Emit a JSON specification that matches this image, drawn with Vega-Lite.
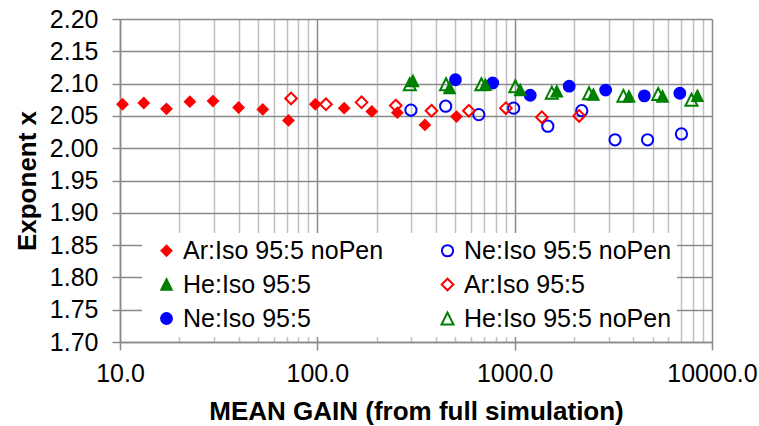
{
  "$schema": "https://vega.github.io/schema/vega-lite/v6.json",
  "width": 592,
  "height": 323,
  "autosize": {"type": "none"},
  "padding": {"left": 120, "top": 19, "right": 47, "bottom": 84},
  "config": {"font": "Liberation Sans", "view": {"stroke": null}},
  "data": {"values": [
    {"series": "Ar:Iso 95:5 noPen", "gain": 10.3, "x": 2.068},
    {"series": "Ar:Iso 95:5 noPen", "gain": 13.2, "x": 2.070},
    {"series": "Ar:Iso 95:5 noPen", "gain": 17.2, "x": 2.061},
    {"series": "Ar:Iso 95:5 noPen", "gain": 22.6, "x": 2.072},
    {"series": "Ar:Iso 95:5 noPen", "gain": 29.6, "x": 2.073},
    {"series": "Ar:Iso 95:5 noPen", "gain": 39.9, "x": 2.063},
    {"series": "Ar:Iso 95:5 noPen", "gain": 52.9, "x": 2.060},
    {"series": "Ar:Iso 95:5 noPen", "gain": 71.4, "x": 2.043},
    {"series": "Ar:Iso 95:5 noPen", "gain": 97.7, "x": 2.068},
    {"series": "Ar:Iso 95:5 noPen", "gain": 136.8, "x": 2.062},
    {"series": "Ar:Iso 95:5 noPen", "gain": 188.8, "x": 2.057},
    {"series": "Ar:Iso 95:5 noPen", "gain": 254.4, "x": 2.055},
    {"series": "Ar:Iso 95:5 noPen", "gain": 351, "x": 2.036},
    {"series": "Ar:Iso 95:5 noPen", "gain": 507, "x": 2.049},
    {"series": "Ne:Iso 95:5 noPen", "gain": 298, "x": 2.059},
    {"series": "Ne:Iso 95:5 noPen", "gain": 447, "x": 2.065},
    {"series": "Ne:Iso 95:5 noPen", "gain": 658, "x": 2.052},
    {"series": "Ne:Iso 95:5 noPen", "gain": 988, "x": 2.062},
    {"series": "Ne:Iso 95:5 noPen", "gain": 1472, "x": 2.034},
    {"series": "Ne:Iso 95:5 noPen", "gain": 2188, "x": 2.058},
    {"series": "Ne:Iso 95:5 noPen", "gain": 3226, "x": 2.013},
    {"series": "Ne:Iso 95:5 noPen", "gain": 4715, "x": 2.013},
    {"series": "Ne:Iso 95:5 noPen", "gain": 7000, "x": 2.022},
    {"series": "Ar:Iso 95:5", "gain": 73.6, "x": 2.077},
    {"series": "Ar:Iso 95:5", "gain": 110.6, "x": 2.068},
    {"series": "Ar:Iso 95:5", "gain": 167.5, "x": 2.071},
    {"series": "Ar:Iso 95:5", "gain": 249.8, "x": 2.066},
    {"series": "Ar:Iso 95:5", "gain": 379, "x": 2.058},
    {"series": "Ar:Iso 95:5", "gain": 586, "x": 2.058},
    {"series": "Ar:Iso 95:5", "gain": 903, "x": 2.062},
    {"series": "Ar:Iso 95:5", "gain": 1374, "x": 2.048},
    {"series": "Ar:Iso 95:5", "gain": 2122, "x": 2.050},
    {"series": "He:Iso 95:5 noPen", "gain": 294, "x": 2.099},
    {"series": "He:Iso 95:5 noPen", "gain": 449, "x": 2.099},
    {"series": "He:Iso 95:5 noPen", "gain": 678, "x": 2.099},
    {"series": "He:Iso 95:5 noPen", "gain": 1008, "x": 2.096},
    {"series": "He:Iso 95:5 noPen", "gain": 1542, "x": 2.086},
    {"series": "He:Iso 95:5 noPen", "gain": 2383, "x": 2.085},
    {"series": "He:Iso 95:5 noPen", "gain": 3556, "x": 2.081},
    {"series": "He:Iso 95:5 noPen", "gain": 5337, "x": 2.084},
    {"series": "He:Iso 95:5 noPen", "gain": 7870, "x": 2.075},
    {"series": "Ne:Iso 95:5", "gain": 501, "x": 2.106},
    {"series": "Ne:Iso 95:5", "gain": 774, "x": 2.101},
    {"series": "Ne:Iso 95:5", "gain": 1199, "x": 2.082},
    {"series": "Ne:Iso 95:5", "gain": 1889, "x": 2.096},
    {"series": "Ne:Iso 95:5", "gain": 2891, "x": 2.090},
    {"series": "Ne:Iso 95:5", "gain": 4541, "x": 2.081},
    {"series": "Ne:Iso 95:5", "gain": 6871, "x": 2.085},
    {"series": "He:Iso 95:5", "gain": 305, "x": 2.104},
    {"series": "He:Iso 95:5", "gain": 468, "x": 2.093},
    {"series": "He:Iso 95:5", "gain": 710, "x": 2.098},
    {"series": "He:Iso 95:5", "gain": 1067, "x": 2.090},
    {"series": "He:Iso 95:5", "gain": 1635, "x": 2.088},
    {"series": "He:Iso 95:5", "gain": 2505, "x": 2.083},
    {"series": "He:Iso 95:5", "gain": 3796, "x": 2.080},
    {"series": "He:Iso 95:5", "gain": 5614, "x": 2.080},
    {"series": "He:Iso 95:5", "gain": 8433, "x": 2.081}
  ]},
  "mark": {"type": "point", "opacity": 1, "strokeWidth": 2},
  "encoding": {
    "x": {
      "field": "gain", "type": "quantitative",
      "scale": {"type": "log", "domain": [10, 10000]},
      "axis": {
        "values": [10,20,30,40,50,60,70,80,90,100,200,300,400,500,600,700,800,900,1000,2000,3000,4000,5000,6000,7000,8000,9000,10000],
        "labelExpr": "indexof([10,100,1000,10000], datum.value) >= 0 ? format(datum.value, '.1f') : ''",
        "grid": true,
        "gridColor": {"condition": {"test": "indexof([10,100,1000,10000], datum.value) >= 0", "value": "#8a8a8a"}, "value": "#c0c0c0"},
        "gridWidth": 1.5,
        "tickOpacity": {"condition": {"test": "indexof([10,100,1000,10000], datum.value) >= 0", "value": 1}, "value": 0},
        "tickSize": 8, "tickColor": "#8a8a8a", "tickWidth": 1.5,
        "domainColor": "#8a8a8a", "domainWidth": 1.5,
        "labelFontSize": 25, "labelColor": "black", "labelPadding": 11,
        "labelOverlap": false, "labelFlush": false,
        "title": "MEAN GAIN (from full simulation)",
        "titleFontSize": 26, "titleFontWeight": "bold", "titleColor": "black", "titlePadding": 12
      }
    },
    "y": {
      "field": "x", "type": "quantitative",
      "scale": {"domain": [1.7, 2.2], "nice": false, "zero": false},
      "axis": {
        "values": [1.7,1.75,1.8,1.85,1.9,1.95,2.0,2.05,2.1,2.15,2.2],
        "format": ".2f",
        "grid": true, "gridColor": "#8a8a8a", "gridWidth": 1.5,
        "tickSize": 8, "tickColor": "#8a8a8a", "tickWidth": 1.5,
        "domainColor": "#8a8a8a", "domainWidth": 1.5,
        "labelFontSize": 25, "labelColor": "black", "labelPadding": 14,
        "title": "Exponent x",
        "titleFontSize": 26, "titleFontWeight": "bold", "titleColor": "black", "titlePadding": 9
      }
    },
    "shape": {
      "field": "series", "type": "nominal",
      "scale": {
        "domain": ["Ar:Iso 95:5 noPen","He:Iso 95:5","Ne:Iso 95:5","Ne:Iso 95:5 noPen","Ar:Iso 95:5","He:Iso 95:5 noPen"],
        "range": ["diamond","M0,-1L1,1L-1,1Z","circle","circle","diamond","M0,-1L1,1L-1,1Z"]
      },
      "legend": {
        "orient": "none", "legendX": 22, "legendY": 214,
        "columns": 2, "title": null,
        "labelFontSize": 25, "labelColor": "black", "labelLimit": 400, "labelOffset": 4,
        "symbolOffset": 7, "symbolStrokeWidth": 2,
        "fillColor": "white", "padding": 5,
        "columnPadding": 44, "rowPadding": 8
      }
    },
    "stroke": {
      "field": "series", "type": "nominal",
      "scale": {
        "domain": ["Ar:Iso 95:5 noPen","He:Iso 95:5","Ne:Iso 95:5","Ne:Iso 95:5 noPen","Ar:Iso 95:5","He:Iso 95:5 noPen"],
        "range": ["#ff0000","#008000","#0000ff","#0000ff","#ff0000","#008000"]
      }
    },
    "fill": {
      "field": "series", "type": "nominal",
      "scale": {
        "domain": ["Ar:Iso 95:5 noPen","He:Iso 95:5","Ne:Iso 95:5","Ne:Iso 95:5 noPen","Ar:Iso 95:5","He:Iso 95:5 noPen"],
        "range": ["#ff0000","#008000","#0000ff","transparent","transparent","transparent"]
      }
    },
    "size": {
      "field": "series", "type": "nominal",
      "scale": {
        "domain": ["Ar:Iso 95:5 noPen","He:Iso 95:5","Ne:Iso 95:5","Ne:Iso 95:5 noPen","Ar:Iso 95:5","He:Iso 95:5 noPen"],
        "range": [100, 144, 144, 169, 144, 289]
      }
    }
  }
}
